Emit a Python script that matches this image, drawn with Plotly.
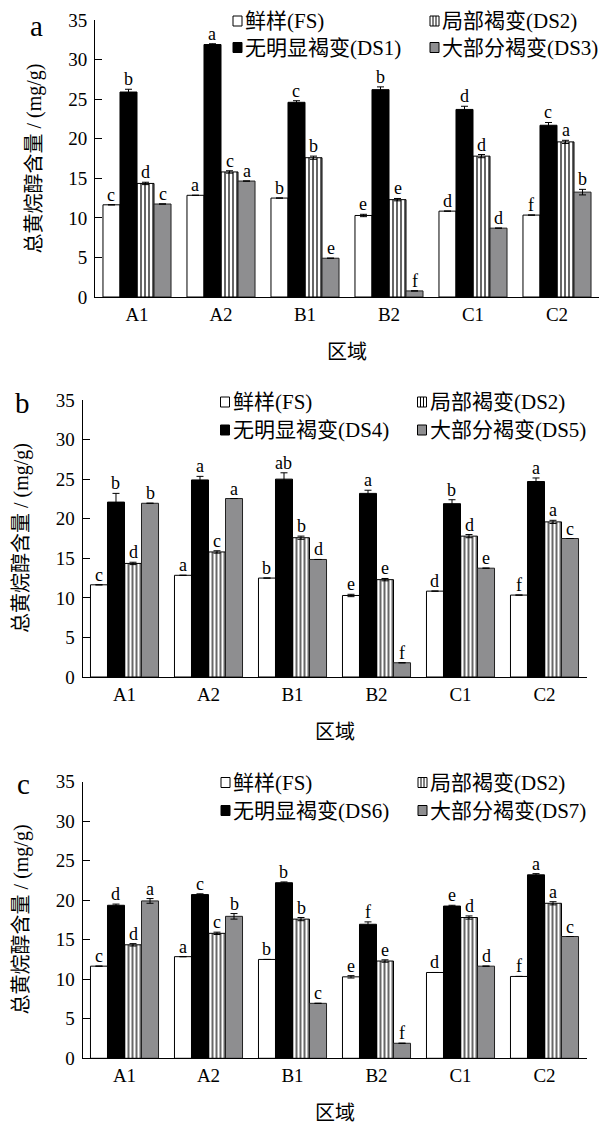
import plotly.graph_objects as go

# ---------------- data ----------------
regions = ["A1", "A2", "B1", "B2", "C1", "C2"]

fs = [11.65, 12.85, 12.5, 10.3, 10.85, 10.35]
fs_err = [0.0, 0.0, 0.0, 0.15, 0.0, 0.0]
fs_sig = ["c", "a", "b", "e", "d", "f"]

ds2 = [14.35, 15.8, 17.6, 12.3, 17.8, 19.6]
ds2_err = [0.15, 0.15, 0.2, 0.15, 0.2, 0.2]
ds2_sig = ["d", "c", "b", "e", "d", "a"]

# panel a
ds1 = [25.9, 31.9, 24.6, 26.2, 23.7, 21.7]
ds1_err = [0.35, 0.1, 0.2, 0.35, 0.4, 0.35]
ds1_sig = ["b", "a", "c", "b", "d", "c"]
ds3 = [11.75, 14.65, 4.9, 0.77, 8.7, 13.25]
ds3_err = [0.0, 0.0, 0.0, 0.0, 0.0, 0.35]
ds3_sig = ["c", "a", "e", "f", "d", "b"]

# panel b
ds4 = [22.1, 24.9, 25.0, 23.2, 21.9, 24.7]
ds4_err = [1.1, 0.45, 0.8, 0.4, 0.5, 0.45]
ds4_sig = ["b", "a", "ab", "a", "b", "a"]
ds5 = [21.95, 22.55, 14.85, 1.8, 13.75, 17.5]
ds5_err = [0.0, 0.0, 0.0, 0.0, 0.0, 0.0]
ds5_sig = ["b", "a", "d", "f", "e", "c"]

# panel c
ds6 = [19.35, 20.7, 22.2, 16.95, 19.25, 23.2]
ds6_err = [0.15, 0.1, 0.1, 0.3, 0.1, 0.15]
ds6_sig = ["d", "c", "b", "f", "e", "a"]
ds7 = [19.9, 17.95, 6.95, 1.9, 11.65, 15.4]
ds7_err = [0.3, 0.35, 0.0, 0.0, 0.0, 0.0]
ds7_sig = ["a", "b", "c", "f", "d", "c"]

legend_names = {
    "a": ["鲜样(FS)", "无明显褐变(DS1)", "局部褐变(DS2)", "大部分褐变(DS3)"],
    "b": ["鲜样(FS)", "无明显褐变(DS4)", "局部褐变(DS2)", "大部分褐变(DS5)"],
    "c": ["鲜样(FS)", "无明显褐变(DS6)", "局部褐变(DS2)", "大部分褐变(DS7)"],
}
y_title = "总黄烷醇含量 / (mg/g)"
x_title = "区域"

# ---------------- layout geometry ----------------
W, H = 606, 1123
SERIF = "Liberation Serif, 'Times New Roman', 'Noto Sans CJK SC', serif"
GRAY = "#8e8e90"
BARGAP = 0.19

panels = [
    dict(key="a", ax="", x0=95.0, x1=599.0, ytop=20.0, ybot=297.0,
         series=[(fs, fs_err, fs_sig), (ds1, ds1_err, ds1_sig),
                 (ds2, ds2_err, ds2_sig), (ds3, ds3_err, ds3_sig)],
         leg_x=(233.0, 430.0), leg_y=(21.0, 47.5), lab=(36.0, 37.0)),
    dict(key="b", ax="2", x0=82.5, x1=586.5, ytop=400.0, ybot=677.0,
         series=[(fs, fs_err, fs_sig), (ds4, ds4_err, ds4_sig),
                 (ds2, ds2_err, ds2_sig), (ds5, ds5_err, ds5_sig)],
         leg_x=(220.5, 417.5), leg_y=(402.0, 430.0), lab=(22.5, 414.0)),
    dict(key="c", ax="3", x0=82.5, x1=586.5, ytop=781.5, ybot=1058.3,
         series=[(fs, fs_err, fs_sig), (ds6, ds6_err, ds6_sig),
                 (ds2, ds2_err, ds2_sig), (ds7, ds7_err, ds7_sig)],
         leg_x=(221.0, 418.0), leg_y=(782.5, 810.5), lab=(23.0, 795.0)),
]

styles = [
    dict(marker=dict(color="white", line=dict(color="black", width=1))),
    dict(marker=dict(color="black", line=dict(color="black", width=1))),
    dict(marker=dict(color="white", line=dict(color="black", width=1),
                     pattern=dict(shape="|", fgcolor="black", bgcolor="white",
                                  size=4, solidity=0.3, fillmode="replace"))),
    dict(marker=dict(color=GRAY, line=dict(color="#222222", width=1))),
]


def px(x):
    return x / W


def py(y):
    return 1 - y / H


fig = go.Figure()
annotations = []
shapes = []

for p in panels:
    xa = "x" + p["ax"]
    ya = "y" + p["ax"]
    plot_w = p["x1"] - p["x0"]
    bar_w = plot_w / len(regions) * (1 - BARGAP) / 4
    for i, (vals, errs, sigs) in enumerate(p["series"]):
        st = styles[i]
        fig.add_trace(go.Bar(
            x=regions, y=vals, xaxis=xa, yaxis=ya,
            marker=st["marker"], showlegend=False,
            error_y=dict(type="data", array=errs, visible=True,
                         color="black", thickness=1, width=3.5),
            hoverinfo="skip",
        ))
        off = (i - 1.5) * bar_w
        for r, v, e, s in zip(regions, vals, errs, sigs):
            annotations.append(dict(
                x=r, y=v + e, xref=xa, yref=ya, text=s, showarrow=False,
                xshift=off, yshift=-2, yanchor="bottom", xanchor="center",
                font=dict(family=SERIF, size=18, color="black")))
    # axes
    fig.layout["xaxis" + p["ax"]] = dict(
        domain=[px(p["x0"]), px(p["x1"])], anchor=ya, automargin=False,
        showline=True, linecolor="black", linewidth=1, ticks="",
        showgrid=False, zeroline=False, fixedrange=True,
        tickfont=dict(family=SERIF, size=19, color="black"),
        range=[-0.5, 5.5])
    fig.layout["yaxis" + p["ax"]] = dict(
        domain=[py(p["ybot"]), py(p["ytop"])], anchor=xa, automargin=False,
        range=[0, 35], dtick=5, tick0=0,
        showline=True, linecolor="black", linewidth=1,
        ticks="inside", ticklen=7, tickcolor="black", tickwidth=1,
        showgrid=False, zeroline=False, fixedrange=True,
        ticklabelstandoff=3,
        tickfont=dict(family=SERIF, size=19, color="black"))
    # axis titles
    cx = (p["x0"] + p["x1"]) / 2
    cy = (p["ytop"] + p["ybot"]) / 2
    annotations.append(dict(
        x=px(cx), y=py(p["ybot"] + 55), xref="paper", yref="paper",
        text=x_title, showarrow=False, xanchor="center", yanchor="middle",
        font=dict(family=SERIF, size=20, color="black")))
    annotations.append(dict(
        x=px(p["x0"] - 61), y=py(cy), xref="paper", yref="paper",
        text=y_title, showarrow=False, textangle=-90,
        xanchor="center", yanchor="middle",
        font=dict(family=SERIF, size=20, color="black")))
    # panel letter
    annotations.append(dict(
        x=px(p["lab"][0]), y=py(p["lab"][1] + 7), xref="paper", yref="paper",
        text=p["key"], showarrow=False, xanchor="center", yanchor="bottom",
        font=dict(family=SERIF, size=29, color="black")))
    # legend (drawn manually: box + label), order FS / DS2 on row 1, DS1 / DS3 on row 2
    names = legend_names[p["key"]]
    grid = [(0, 0, 0), (1, 0, 1), (2, 1, 0), (3, 1, 1)]  # series index, col, row
    for si, col, row in grid:
        bx = p["leg_x"][col]
        byc = p["leg_y"][row]
        bw, bh = 9, 10
        fill = {0: "white", 1: "black", 2: "white", 3: GRAY}[si]
        shapes.append(dict(type="rect", xref="paper", yref="paper",
                           x0=px(bx), x1=px(bx + bw), y0=py(byc + bh / 2), y1=py(byc - bh / 2),
                           line=dict(color="black", width=1), fillcolor=fill))
        if si == 2:
            for k in (1, 2):
                lx = bx + bw * k / 3
                shapes.append(dict(type="line", xref="paper", yref="paper",
                                   x0=px(lx), x1=px(lx), y0=py(byc + bh / 2), y1=py(byc - bh / 2),
                                   line=dict(color="black", width=1)))
        annotations.append(dict(
            x=px(bx + bw + 1), y=py(byc), xref="paper", yref="paper",
            text=names[si], showarrow=False, xanchor="left", yanchor="middle",
            font=dict(family=SERIF, size=21, color="black")))

fig.update_layout(
    width=W, height=H, autosize=False,
    margin=dict(l=0, r=0, t=0, b=0, pad=0, autoexpand=False),
    paper_bgcolor="white", plot_bgcolor="white",
    barmode="group", bargap=BARGAP, bargroupgap=0,
    annotations=annotations, shapes=shapes,
    showlegend=False,
)

fig.write_html("out.html", config={"displayModeBar": False},
               post_script="document.body.style.margin='0';document.body.style.padding='0';")
